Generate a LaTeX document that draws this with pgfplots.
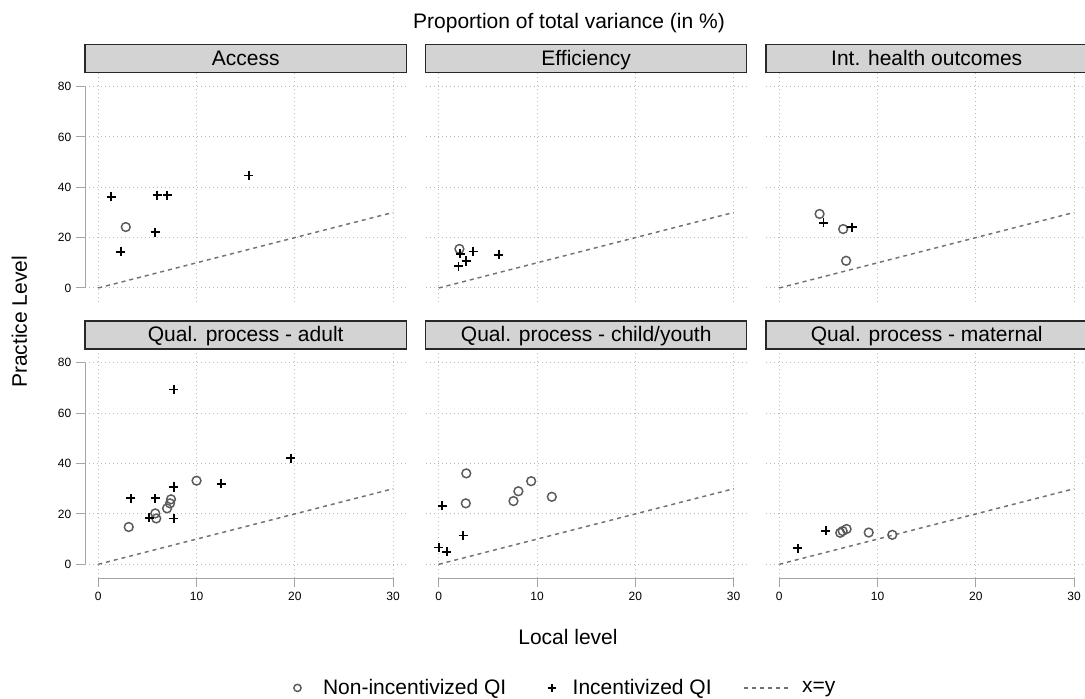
\documentclass[border=0pt]{standalone}
\usepackage{pgfplots}
\pgfplotsset{compat=1.18}
\usepackage{fontspec}
\setmainfont{Liberation Sans}
\definecolor{stripc}{RGB}{211,211,211}
\definecolor{stripb}{RGB}{40,40,40}
\definecolor{gridc}{RGB}{185,185,185}
\definecolor{axisc}{RGB}{165,165,165}
\definecolor{circc}{RGB}{90,90,90}
\definecolor{linec}{RGB}{115,115,115}
\newcommand{\bigfont}{\fontsize{15.75pt}{18pt}\selectfont}
\newcommand{\tickfont}{\fontsize{9pt}{10.8pt}\selectfont}
\newcommand{\strip}[1]{%
  \draw[fill=stripc, draw=stripb, line width=0.8pt] (rel axis cs:0,1) rectangle ([yshift=21pt]rel axis cs:1,1);
  \node[font=\bigfont, anchor=base] at ([yshift=5.3pt]rel axis cs:0.5,1) {#1};}
\newcommand{\yline}{\draw[axisc, line width=0.75pt] (axis cs:-1.35,0) -- (axis cs:-1.35,80);}
\newcommand{\xline}{\draw[axisc, line width=0.75pt] (axis cs:0,-5.45) -- (axis cs:30,-5.45);}
\pgfplotsset{
  panel/.style={scale only axis, width=241.05pt, height=171.75pt, anchor=north west,
    xmin=-1.35, xmax=31.35, ymin=-5.45, ymax=85.5,
    xtick={0,10,20,30}, ytick={0,20,40,60,80},
    grid=major, grid style={gridc, line width=0.75pt, dash pattern=on 0.75pt off 2.25pt},
    axis line style={draw=none}, tick align=outside, xtick pos=bottom, ytick pos=left,
    major tick length=6.75pt, tick style={axisc, line width=0.75pt},
    ticklabel style={font=\tickfont}, clip=false,
    /pgf/number format/assume math mode=true},
  noy/.style={yticklabels={}, ytick style={draw=none}},
  nox/.style={xticklabels={}, xtick style={draw=none}},
  circ/.style={only marks, mark=o, mark size=3.3pt, draw=circc, mark options={line width=1.1pt, draw=circc}},
  plus/.style={only marks, mark=+, mark size=3.4pt, black, mark options={line width=1.35pt}},
  xy/.style={linec, line width=1.1pt, dash pattern=on 3pt off 3pt},
  xyleg/.style={legend image code/.code={\draw[##1] (0pt,0pt) -- (34pt,0pt);}}
}
\begin{document}
\begin{tikzpicture}
\useasboundingbox (0,0) rectangle (813.75pt,524.25pt);
% Access
\begin{axis}[panel, nox, at={(63.75pt,469.725pt)}]
\addplot[xy] coordinates {(0,0) (30,30)};
\addplot[circ] coordinates {(2.8,24.2)};
\addplot[plus] coordinates {(1.3,36.2) (2.3,14.4) (5.8,22.1) (6.0,36.8) (7.0,36.8) (15.3,44.7)};
\yline
\strip{Access}
\end{axis}
% Efficiency
\begin{axis}[panel, nox, noy, at={(319.125pt,469.725pt)}]
\addplot[xy] coordinates {(0,0) (30,30)};
\addplot[circ] coordinates {(2.1,15.5)};
\addplot[plus] coordinates {(2.2,13.6) (3.5,14.5) (2.8,10.7) (2.0,8.6) (6.1,13.2)};
\strip{Efficiency}
\end{axis}
% Int. health outcomes
\begin{axis}[panel, nox, noy, at={(574.5pt,469.725pt)}]
\addplot[xy] coordinates {(0,0) (30,30)};
\addplot[circ] coordinates {(4.1,29.4) (6.5,23.4) (6.8,10.8)};
\addplot[plus] coordinates {(4.5,25.9) (7.4,24.1)};
\strip{Int. health outcomes}
\end{axis}
% Qual. process - adult
\begin{axis}[panel, at={(63.75pt,262.5pt)}]
\addplot[xy] coordinates {(0,0) (30,30)};
\addplot[circ] coordinates {(10.0,33.2) (7.4,25.8) (7.3,24.2) (7.0,22.2) (5.8,20.2) (5.9,18.2) (3.1,14.8)};
\addplot[plus] coordinates {(7.7,69.4) (19.6,42.1) (12.5,32.0) (7.7,30.7) (3.3,26.2) (5.8,26.2) (5.2,18.5) (7.7,18.2)};
\yline \xline
\strip{Qual. process - adult}
\end{axis}
% Qual. process - child/youth
\begin{axis}[panel, noy, at={(319.125pt,262.5pt)},
  legend style={at={(0.437,-0.48)}, anchor=center, draw=none, fill=none, legend columns=-1,
    font=\bigfont,
    /tikz/column 1/.style={column sep=14.5pt},
    /tikz/column 2/.style={column sep=29.25pt},
    /tikz/column 3/.style={column sep=10.75pt},
    /tikz/column 4/.style={column sep=21.75pt},
    /tikz/column 5/.style={column sep=7pt}}]
\addplot[xy, forget plot] coordinates {(0,0) (30,30)};
\addplot[circ, forget plot] coordinates {(2.8,36.1) (2.75,24.2) (9.4,33.0) (8.1,29.0) (7.6,25.1) (11.5,26.8)};
\addplot[plus, forget plot] coordinates {(0.35,23.3) (2.5,11.4) (0.0,6.7) (0.8,4.9)};
\addlegendimage{circ, mark size=2.7pt}
\addlegendimage{plus, mark size=2.9pt}
\addlegendimage{xy, xyleg}
\legend{Non-incentivized QI, Incentivized QI, x=y}
\xline
\strip{Qual. process - child/youth}
\end{axis}
% Qual. process - maternal
\begin{axis}[panel, noy, at={(574.5pt,262.5pt)}]
\addplot[xy] coordinates {(0,0) (30,30)};
\addplot[circ] coordinates {(6.2,12.5) (6.45,13.2) (6.85,14.0) (9.1,12.6) (11.5,11.7)};
\addplot[plus] coordinates {(4.75,13.3) (1.9,6.4)};
\xline
\strip{Qual. process - maternal}
\end{axis}
\node[font=\bigfont, anchor=base] at (426.75pt,502.5pt) {Proportion of total variance (in \%)};
\node[font=\bigfont, anchor=base] at (426pt,40.5pt) {Local level};
\node[font=\bigfont, anchor=base, rotate=90] at (20.25pt,282.75pt) {Practice Level};
\end{tikzpicture}
\end{document}
